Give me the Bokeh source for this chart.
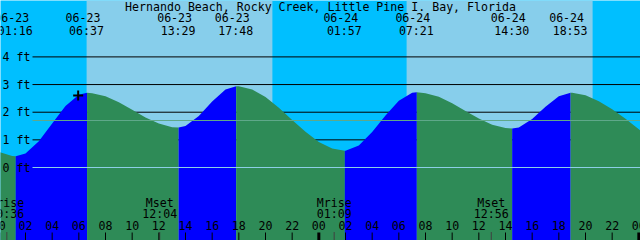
from bokeh.plotting import figure
from bokeh.models import Range1d, BoxAnnotation, ColumnDataSource
from bokeh.core.properties import value
from bokeh.embed import file_html
from bokeh.resources import INLINE

TITLE = "Hernando Beach, Rocky Creek, Little Pine I. Bay, Florida"

# tide level (ft) read hourly, hours counted from 06-23 00:00
hours = list(range(0, 50))
levels = [0.56, 0.42, 0.51, 0.95, 1.59, 2.22, 2.63, 2.69, 2.58, 2.36,
          2.09, 1.81, 1.59, 1.46, 1.50, 1.86, 2.39, 2.82, 2.94, 2.82,
          2.55, 2.16, 1.72, 1.29, 0.92, 0.69, 0.61, 0.80, 1.28, 1.88,
          2.41, 2.70, 2.69, 2.56, 2.32, 2.04, 1.77, 1.55, 1.43, 1.45,
          1.75, 2.20, 2.58, 2.70, 2.61, 2.40, 2.11, 1.76, 1.38, 1.05]

# tide events
event_dates = ["06-23", "06-23", "06-23", "06-23", "06-24", "06-24", "06-24", "06-24"]
event_times = ["01:16", "06:37", "13:29", "17:48", "01:57", "07:21", "14:30", "18:53"]
event_kinds = ["L", "H", "L", "H", "L", "H", "L", "H"]
event_levels = [0.41, 2.70, 1.45, 2.94, 0.61, 2.72, 1.41, 2.70]

# sun
sunrise = ["06-23 06:35", "06-24 06:35"]
sunset = ["06-23 20:31", "06-24 20:32"]

# moon
moon_names = ["Mrise", "Mset", "Mrise", "Mset"]
moon_dates = ["06-23", "06-23", "06-24", "06-24"]
moon_times = ["00:36", "12:04", "01:09", "12:56"]

# axes
ft_levels = [0, 1, 2, 3, 4]
ft_labels = ["0 ft", "1 ft", "2 ft", "3 ft", "4 ft"]
hour_ticks = list(range(0, 49, 2))
hour_labels = ["%02d" % (h % 24) for h in hour_ticks]
datum_level = 1.70
now_stamp = "06-23 05:57"
now_level = 2.60

# ---------------------------------------------------------------
W, H = 640, 240
X0, X1 = 0.125, 48.125
Y_TOP, Y_BOT = 6.04, -2.64
PXH = W / (X1 - X0)
FONT = value("DejaVu Sans Mono")
FS = "11.6px"

DEEP = "#00BFFF"
SKY = "#87CEEB"
BLUE = "#0000FF"
GREEN = "#2E8B57"


def to_h(date, hm):
    day = int(date[3:]) - 23
    hh, mm = hm.split(":")
    return day * 24 + int(hh) + int(mm) / 60.0


def stamp_h(s):
    d, t = s.split(" ")
    return to_h(d, t)


def fy(py):
    return Y_TOP - py * (Y_TOP - Y_BOT) / H


def hx(px):
    return X0 + px / PXH


p = figure(width=W, height=H, x_range=Range1d(X0, X1), y_range=Range1d(Y_BOT, Y_TOP),
           output_backend="svg", toolbar_location=None, min_border=0,
           x_axis_location=None, y_axis_location=None,
           background_fill_color=DEEP, border_fill_color=DEEP, outline_line_color=None)
p.xgrid.visible = False
p.ygrid.visible = False

# daylight
for r, s in zip(sunrise, sunset):
    p.add_layout(BoxAnnotation(left=stamp_h(r), right=stamp_h(s), fill_color=SKY,
                               fill_alpha=1.0, line_color=None, level="underlay"))

# reference lines behind tide
line_x0 = hx(32)
p.segment(x0=[line_x0] * 4, x1=[X1] * 4, y0=ft_levels[1:], y1=ft_levels[1:],
          line_color="black", line_width=1)

# tide fill
ev_h = [to_h(d, t) for d, t in zip(event_dates, event_times)]
pts = sorted(list(zip(hours, levels)) + list(zip(ev_h, event_levels)))
bounds = [-1e9] + ev_h + [1e9]
for i in range(len(bounds) - 1):
    a, b = bounds[i], bounds[i + 1]
    seg = [(x, y) for x, y in pts if a <= x <= b]
    if len(seg) < 2:
        continue
    rising = i < len(event_kinds) and event_kinds[i] == "H"
    p.varea(x=[q[0] for q in seg], y1=Y_BOT, y2=[q[1] for q in seg],
            fill_color=BLUE if rising else GREEN)

# lines on top
p.segment(x0=[line_x0], x1=[X1], y0=[0], y1=[0], line_color="#8ccfe6", line_width=1)
p.segment(x0=[line_x0], x1=[X1], y0=[datum_level], y1=[datum_level],
          line_color="#5fa88a", line_width=1)

# current time marker
p.scatter(x=[stamp_h(now_stamp)], y=[now_level], marker="cross", size=10,
          line_color="black", line_width=2)

# y labels
p.text(x=[hx(2)] * len(ft_levels), y=ft_levels, text=ft_labels, text_font=FONT,
       text_font_size=FS, text_align="left", text_baseline="middle", text_color="black")

# title
p.text(x=[(X0 + X1) / 2], y=[fy(6)], text=[TITLE], text_font=FONT, text_font_size=FS,
       text_align="center", text_baseline="middle", text_color="black")

# tide event labels
p.text(x=ev_h, y=[fy(17)] * len(ev_h), text=event_dates, x_offset=-4, text_font=FONT,
       text_font_size=FS, text_align="center", text_baseline="middle", text_color="black")
p.text(x=ev_h, y=[fy(30)] * len(ev_h), text=event_times, x_offset=-0.5, text_font=FONT,
       text_font_size=FS, text_align="center", text_baseline="middle", text_color="black")

# moon labels and ticks
mh = [to_h(d, t) for d, t in zip(moon_dates, moon_times)]
p.text(x=mh, y=[fy(202)] * len(mh), text=moon_names, text_font=FONT, text_font_size=FS,
       text_align="center", text_baseline="middle", text_color="black")
p.text(x=mh, y=[fy(213.5)] * len(mh), text=moon_times, text_font=FONT, text_font_size=FS,
       text_align="center", text_baseline="middle", text_color="black")
p.segment(x0=mh, x1=mh, y0=[fy(231.5)] * len(mh), y1=[Y_BOT] * len(mh),
          line_color="#404040", line_width=1)

# hour ticks and labels
p.text(x=hour_ticks, y=[fy(225)] * len(hour_ticks), text=hour_labels, text_font=FONT,
       text_font_size=FS, text_align="center", text_baseline="middle", text_color="black")
mid = [h for h in hour_ticks if h % 24 == 0]
reg = [h for h in hour_ticks if h % 24 != 0]
p.segment(x0=reg, x1=reg, y0=[fy(232)] * len(reg), y1=[Y_BOT] * len(reg),
          line_color="black", line_width=1)
p.segment(x0=mid, x1=mid, y0=[fy(232)] * len(mid), y1=[Y_BOT] * len(mid),
          line_color="black", line_width=3)

open("out.html", "w").write(file_html(p, INLINE))
